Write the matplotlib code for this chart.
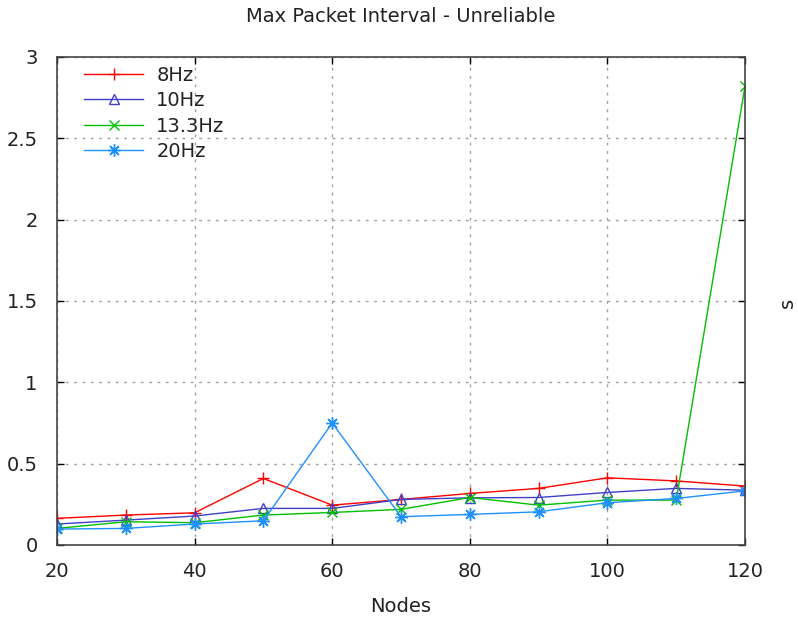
import matplotlib
matplotlib.use("Agg")
import matplotlib.pyplot as plt

plt.rcParams['font.family'] = ['DejaVu Sans']

nodes = [20, 30, 40, 50, 60, 70, 80, 90, 100, 110, 120]
hz8 = [0.164, 0.184, 0.198, 0.409, 0.245, 0.280, 0.317, 0.348, 0.413, 0.394, 0.362]
hz10 = [0.129, 0.153, 0.178, 0.225, 0.225, 0.280, 0.290, 0.292, 0.323, 0.348, 0.337]
hz13 = [0.102, 0.143, 0.137, 0.184, 0.200, 0.219, 0.292, 0.245, 0.276, 0.276, 2.82]
hz20 = [0.098, 0.102, 0.129, 0.149, 0.750, 0.174, 0.188, 0.204, 0.260, 0.286, 0.333]

series = [
    ("8Hz", hz8, "#ff0000", "+", 9, "none"),
    ("10Hz", hz10, "#3f3fc8", "^", 7, "none"),
    ("13.3Hz", hz13, "#00c000", "x", 7, "none"),
    ("20Hz", hz20, "#1e90ff", (8, 2, 0), 9, "none"),
]

x_ticks = [20, 40, 60, 80, 100, 120]
y_ticks = [0, 0.5, 1, 1.5, 2, 2.5, 3]
y_labels = ["0", "0.5", "1", "1.5", "2", "2.5", "3"]

FS = 14
W, H = 798, 617
fig = plt.figure(figsize=(W / 100, H / 100), dpi=100)
ax = fig.add_axes([57 / W, (H - 545) / H, (745 - 57) / W, (545 - 57) / H])

for label, vals, color, marker, ms, fc in series:
    ax.plot(nodes, vals, color=color, lw=1.0, marker=marker, ms=ms,
            mfc=fc, mec=color, mew=1.0, label=label)

ax.set_xlim(20, 120)
ax.set_ylim(0, 3)
ax.set_xticks(x_ticks)
ax.set_yticks(y_ticks)
ax.set_yticklabels(y_labels)
ax.grid(True, color="#a0a0a0", linestyle=(0, (2, 4)), linewidth=1.0)
ax.set_axisbelow(True)

ax.tick_params(direction="in", length=5, width=1, top=True, right=True,
               labelsize=FS, colors="black", labelcolor="#222222")
ax.tick_params(axis="x", pad=12)
ax.tick_params(axis="y", pad=14)
for sp in ax.spines.values():
    sp.set_color("#444444")
    sp.set_linewidth(1.2)

fig.text(0.5 * (57 + 745) / W, 1 - 17 / H, "Max Packet Interval - Unreliable",
         ha="center", va="center", fontsize=FS, color="#222222")
fig.text(0.5 * (57 + 745) / W, 1 - 607 / H, "Nodes",
         ha="center", va="center", fontsize=FS, color="#222222")
fig.text(787 / W, 1 - 303 / H, "s", rotation=90,
         ha="center", va="center", fontsize=FS, color="#222222")

leg = ax.legend(loc="upper left", frameon=False, fontsize=FS,
                handlelength=3.0, handletextpad=0.7, labelspacing=0.33,
                borderaxespad=0.3, bbox_to_anchor=(0.02, 1.01))
for t in leg.get_texts():
    t.set_color("#222222")

fig.savefig("out.png", dpi=100)
